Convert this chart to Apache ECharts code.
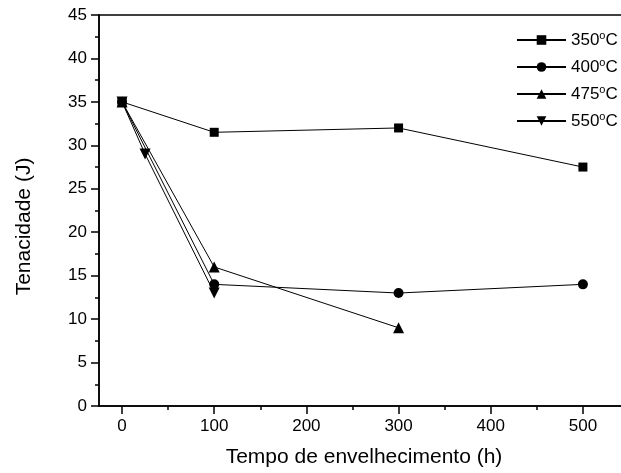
<!DOCTYPE html>
<html>
<head>
<meta charset="utf-8">
<script src="https://cdn.jsdelivr.net/npm/echarts@6/dist/echarts.min.js"></script>
<style>
html,body{margin:0;padding:0;background:#fff;overflow:hidden;}
#c{width:629px;height:473px;}
</style>
</head>
<body>
<div id="c"></div>
<script>
const seriesNames = ['350°C', '400°C', '475°C', '550°C'];
const hours350 = [0, 100, 300, 500];
const vals350 = [35, 31.5, 32, 27.5];
const hours400 = [0, 100, 300, 500];
const vals400 = [35, 14, 13, 14];
const hours475 = [0, 100, 300];
const vals475 = [35, 16, 9];
const hours550 = [0, 25, 100];
const vals550 = [35, 29, 13];
const xMajorTicks = [0, 100, 200, 300, 400, 500];
const xMinorTicks = [50, 150, 250, 350, 450, 550];

const FONT = "'Liberation Sans', Arial, sans-serif";
const pairs = (xs, ys) => xs.map((x, i) => [x, ys[i]]);

const chart = echarts.init(document.getElementById('c'), null, {renderer: 'canvas'});
const baseLine = {color: '#000', width: 1};
function mk(name, data, symbol, size, rot) {
  return {
    name: name, type: 'line', data: data, symbol: symbol, symbolSize: size,
    symbolRotate: rot || 0, showAllSymbol: true,
    lineStyle: baseLine, itemStyle: {color: '#000', borderWidth: 0},
    emphasis: {disabled: true}, animation: false
  };
}
chart.setOption({
  animation: false,
  backgroundColor: '#fff',
  grid: {left: 99, right: 0, top: 15, bottom: 65, show: true, borderColor: '#000', borderWidth: 1.5, backgroundColor: 'transparent'},
  legend: {
    orient: 'vertical', left: 511, top: 25, itemWidth: 49, itemHeight: 12, itemGap: 7,
    data: seriesNames,
    formatter: function (n) { return '{n|' + n.replace('°C', '') + '}{s|o}{n|C}'; },
    textStyle: {
      fontFamily: FONT, color: '#000',
      rich: {
        n: {fontSize: 17, fontFamily: FONT, color: '#000', lineHeight: 20},
        s: {fontSize: 11, fontFamily: FONT, color: '#000', lineHeight: 20, verticalAlign: 'top', padding: [0, 0, 9, 0]}
      }
    }
  },
  xAxis: [{
    type: 'value', min: -25, max: 550, position: 'bottom',
    name: 'Tempo de envelhecimento (h)', nameLocation: 'middle', nameGap: 41,
    nameTextStyle: {fontFamily: FONT, fontSize: 21, color: '#000'},
    axisLine: {show: true, onZero: false, lineStyle: {color: '#000', width: 1.5}},
    axisTick: {show: true, inside: false, length: 8, lineStyle: {color: '#000', width: 1.5}, customValues: xMajorTicks},
    axisLabel: {show: true, margin: 12, fontFamily: FONT, fontSize: 17, color: '#000', customValues: xMajorTicks},
    splitLine: {show: false}
  }, {
    type: 'value', min: -25, max: 550, position: 'bottom', gridIndex: 0,
    axisLine: {show: false, onZero: false},
    axisTick: {show: true, inside: false, length: 4, lineStyle: {color: '#000', width: 1.5}, customValues: xMinorTicks},
    axisLabel: {show: false},
    splitLine: {show: false}
  }],
  yAxis: {
    type: 'value', min: 0, max: 45, interval: 5,
    name: 'Tenacidade (J)', nameLocation: 'middle', nameGap: 64, nameRotate: 90,
    nameTextStyle: {fontFamily: FONT, fontSize: 21, color: '#000', padding: [0, 32, 0, 0]},
    axisLine: {show: true, onZero: false, lineStyle: {color: '#000', width: 1.5}},
    axisTick: {show: true, inside: false, length: 8, lineStyle: {color: '#000', width: 1.5}},
    minorTick: {show: true, splitNumber: 2, length: 4, lineStyle: {color: '#000', width: 1.5}},
    axisLabel: {margin: 12, fontFamily: FONT, fontSize: 17, color: '#000'},
    splitLine: {show: false}
  },
  series: [
    mk(seriesNames[0], pairs(hours350, vals350), 'rect', 9),
    mk(seriesNames[1], pairs(hours400, vals400), 'circle', 10),
    mk(seriesNames[2], pairs(hours475, vals475), 'triangle', 11),
    mk(seriesNames[3], pairs(hours550, vals550), 'triangle', 11, 180)
  ]
});
</script>
</body>
</html>
